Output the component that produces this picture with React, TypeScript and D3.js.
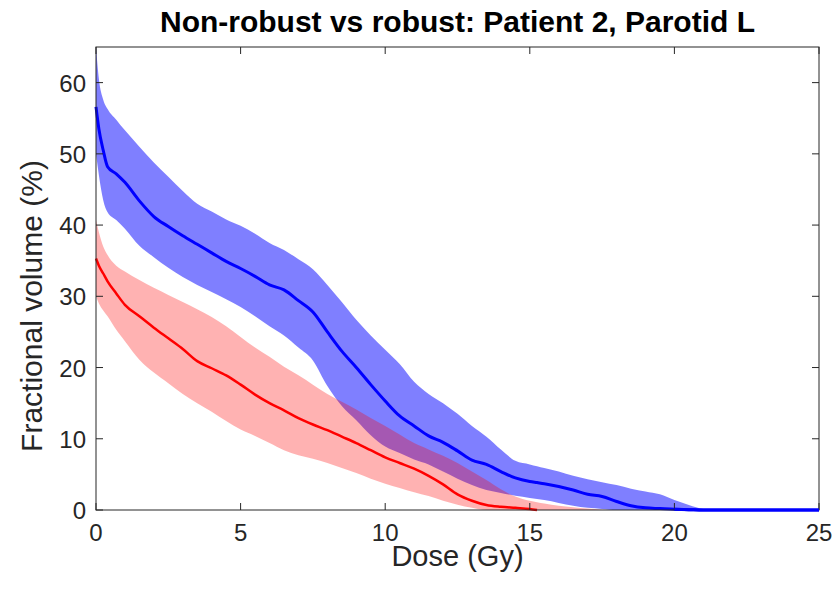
import React from 'react';
import * as d3 from 'd3';

const doses = [0,0.1,0.25,0.4,0.7,1,1.5,2,2.5,3,3.5,4,4.5,5,5.5,6,6.5,7,7.5,8,8.5,9,9.5,10,10.5,11,11.5,12,12.5,13,13.5,14,14.5,15,15.25,15.5,16,16.5,17,17.5,18,18.5,19,19.5,20,20.5,21,21.5,22,25];

const blueMean = [56.6,53.5,50.5,48.2,47.2,46,43.4,41.2,39.8,38.5,37.3,36.1,34.9,33.9,32.8,31.6,30.9,29.4,27.8,25,22.3,20,17.6,15.3,13.2,11.8,10.4,9.5,8.3,7.0,6.4,5.4,4.5,4.0,3.85,3.7,3.3,2.8,2.2,1.9,1.2,0.6,0.3,0.2,0.1,0.05,0,0,0,0];
const blueUpper = [65,60.5,57.6,56.3,54.8,53.3,51,48.8,46.8,44.8,43,41.9,40.8,39.9,38.8,37.5,36.5,35.2,33.8,31.6,29.2,26.7,24.5,22.5,20.5,18,16.3,15,13.5,11.8,10.3,8.5,6.9,6.4,6.15,5.9,5.4,4.8,4.3,3.9,3.5,3.0,2.6,2.2,1.4,0.7,0.15,0,0,0];
const blueLower = [50,47,43.5,41.8,40.7,39.5,37.1,35.5,34,32.7,31.6,30.6,29.6,28.5,27.2,25.8,24.5,22.8,21,17.4,14.6,12.6,10.5,8.9,8,7.1,6.4,5.4,4.4,3.5,2.8,2.4,2.0,1.7,1.55,1.4,1.0,0.6,0.3,0.15,0,0,0,0,0,0,0,0,0,0];

const redMean = [35.3,34.3,33.2,32.1,30.4,28.8,27.2,25.6,24.1,22.6,20.9,19.9,18.9,17.6,16.2,15,14,12.9,12,11.2,10.3,9.4,8.4,7.4,6.6,5.8,4.8,3.6,2.2,1.3,0.7,0.45,0.3,0.15,0,null,null,null,null,null,null,null,null,null,null,null,null,null,null,null];
const redUpper = [40.7,39,37,35.8,34.3,33.5,32.3,31.2,30.2,29.2,28.2,27.1,25.8,24.3,22.8,21.5,20.1,18.9,17.6,16.3,15.2,14.1,12.9,11.8,10.6,9.4,8.5,7.6,6.6,5.4,4.2,2.9,1.9,1.3,1.1,0.9,0.6,0.4,0.2,0.05,0,0,0,0,0,0,0,0,0,0];
const redLower = [30,29,28,27.2,25.3,23.7,21.1,19.3,17.8,16.3,15,13.8,12.5,11.3,10.4,9.4,8.4,7.7,7.2,6.6,5.9,5.2,4.4,3.7,3.1,2.5,1.95,1.3,0.75,0.3,0,0,0,0,0,0,0,0,0,0,0,0,0,0,0,0,0,0,0,0];

const xTicks = [0, 5, 10, 15, 20, 25];
const yTicks = [0, 10, 20, 30, 40, 50, 60];

const titleText = 'Non-robust vs robust: Patient 2, Parotid L';
const xLabel = 'Dose (Gy)';
const yLabel = 'Fractional volume (%)';

export default function App() {
  const W = 836, H = 590;
  const L = 96, R = 819, T = 47, B = 510;
  const x = d3.scaleLinear().domain([0, 25]).range([L, R]);
  const y = d3.scaleLinear().domain([0, 65]).range([B, T]);
  const idx = doses.map((_, i) => i);
  const curve = d3.curveMonotoneX;

  const band = (lo: number[], hi: number[]) =>
    d3.area<number>().curve(curve).x(i => x(doses[i])).y0(i => y(lo[i])).y1(i => y(hi[i]))(idx) || '';
  const line = (v: (number | null)[]) =>
    d3.line<number>().curve(curve).defined(i => v[i] !== null).x(i => x(doses[i])).y(i => y(v[i] as number))(idx) || '';

  const font = '"Liberation Sans", Arial, Helvetica, sans-serif';
  const axisColor = '#262626';
  const tickLen = 7;

  return (
    <svg width={W} height={H} style={{ position: 'absolute', left: 0, top: 0, background: '#fff' }} fontFamily={font}>
      <rect x={0} y={0} width={W} height={H} fill="#fff" />
      <path d={band(blueLower, blueUpper)} fill="#0000ff" fillOpacity={0.5} stroke="none" />
      <path d={band(redLower, redUpper)} fill="#ff0000" fillOpacity={0.3} stroke="none" />
      <path d={line(redMean)} fill="none" stroke="#ff0000" strokeWidth={2.5} strokeLinejoin="round" />
      <path d={line(blueMean)} fill="none" stroke="#0000ff" strokeWidth={3} strokeLinejoin="round" />
      <rect x={L} y={T} width={R - L} height={B - T} fill="none" stroke={axisColor} strokeWidth={1} />
      {xTicks.map(t => (
        <g key={'x' + t}>
          <line x1={x(t)} x2={x(t)} y1={B} y2={B - tickLen} stroke={axisColor} />
          <line x1={x(t)} x2={x(t)} y1={T} y2={T + tickLen} stroke={axisColor} />
          <text x={x(t)} y={B + 31} textAnchor="middle" fontSize={24} fill={axisColor}>{t}</text>
        </g>
      ))}
      {yTicks.map(t => (
        <g key={'y' + t}>
          <line x1={L} x2={L + tickLen} y1={y(t)} y2={y(t)} stroke={axisColor} />
          <line x1={R} x2={R - tickLen} y1={y(t)} y2={y(t)} stroke={axisColor} />
          <text x={L - 10} y={y(t) + 9} textAnchor="end" fontSize={24} fill={axisColor}>{t}</text>
        </g>
      ))}
      <path d={line(blueMean.map((v, i) => (doses[i] >= 20 ? v : null)))} fill="none" stroke="#0000ff" strokeWidth={3} />
      <text x={(L + R) / 2} y={32} textAnchor="middle" fontSize={30} fontWeight="bold" fill="#000">{titleText}</text>
      <text x={(L + R) / 2} y={566} textAnchor="middle" fontSize={29} fill={axisColor}>{xLabel}</text>
      <text transform={`translate(42, 306) rotate(-90)`} textAnchor="middle" fontSize={30} fill={axisColor}>{yLabel}</text>
    </svg>
  );
}
